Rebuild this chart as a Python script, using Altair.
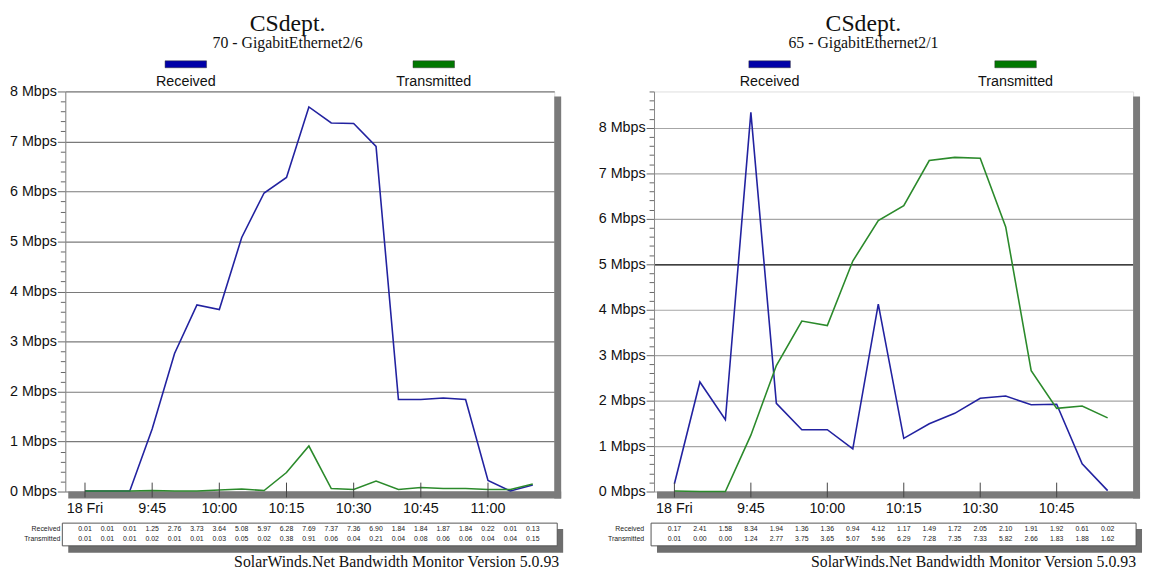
import altair as alt
import pandas as pd

SANS = "Liberation Sans"
SERIF = "Liberation Serif"
BLUE = "#2222a0"
GREEN = "#2b8a2b"
BLUE_KEY = "#0000a8"
GREEN_KEY = "#007800"

series_names = ["Received", "Transmitted"]
footer_text = "SolarWinds.Net Bandwidth Monitor Version 5.0.93"

# ---------- left panel ----------
left_title = "CSdept."
left_subtitle = "70 - GigabitEthernet2/6"
left_times = [
    "2008-01-18T09:30:00", "2008-01-18T09:35:00", "2008-01-18T09:40:00",
    "2008-01-18T09:45:00", "2008-01-18T09:50:00", "2008-01-18T09:55:00",
    "2008-01-18T10:00:00", "2008-01-18T10:05:00", "2008-01-18T10:10:00",
    "2008-01-18T10:15:00", "2008-01-18T10:20:00", "2008-01-18T10:25:00",
    "2008-01-18T10:30:00", "2008-01-18T10:35:00", "2008-01-18T10:40:00",
    "2008-01-18T10:45:00", "2008-01-18T10:50:00", "2008-01-18T10:55:00",
    "2008-01-18T11:00:00", "2008-01-18T11:05:00", "2008-01-18T11:10:00",
]
left_received = [0.01, 0.01, 0.01, 1.25, 2.76, 3.73, 3.64, 5.08, 5.97, 6.28, 7.69,
                 7.37, 7.36, 6.90, 1.84, 1.84, 1.87, 1.84, 0.22, 0.01, 0.13]
left_transmitted = [0.01, 0.01, 0.01, 0.02, 0.01, 0.01, 0.03, 0.05, 0.02, 0.38, 0.91,
                    0.06, 0.04, 0.21, 0.04, 0.08, 0.06, 0.06, 0.04, 0.04, 0.15]
left_tick_times = ["2008-01-18T09:30:00", "2008-01-18T09:45:00", "2008-01-18T10:00:00",
                   "2008-01-18T10:15:00", "2008-01-18T10:30:00", "2008-01-18T10:45:00",
                   "2008-01-18T11:00:00"]
left_tick_labels = ["18 Fri", "9:45", "10:00", "10:15", "10:30", "10:45", "11:00"]

# ---------- right panel ----------
right_title = "CSdept."
right_subtitle = "65 - GigabitEthernet2/1"
right_times = [
    "2008-01-18T09:30:00", "2008-01-18T09:35:00", "2008-01-18T09:40:00",
    "2008-01-18T09:45:00", "2008-01-18T09:50:00", "2008-01-18T09:55:00",
    "2008-01-18T10:00:00", "2008-01-18T10:05:00", "2008-01-18T10:10:00",
    "2008-01-18T10:15:00", "2008-01-18T10:20:00", "2008-01-18T10:25:00",
    "2008-01-18T10:30:00", "2008-01-18T10:35:00", "2008-01-18T10:40:00",
    "2008-01-18T10:45:00", "2008-01-18T10:50:00", "2008-01-18T10:55:00",
]
right_received = [0.17, 2.41, 1.58, 8.34, 1.94, 1.36, 1.36, 0.94, 4.12, 1.17, 1.49,
                  1.72, 2.05, 2.10, 1.91, 1.92, 0.61, 0.02]
right_transmitted = [0.01, 0.00, 0.00, 1.24, 2.77, 3.75, 3.65, 5.07, 5.96, 6.29, 7.28,
                     7.35, 7.33, 5.82, 2.66, 1.83, 1.88, 1.62]
right_tick_times = ["2008-01-18T09:30:00", "2008-01-18T09:45:00", "2008-01-18T10:00:00",
                    "2008-01-18T10:15:00", "2008-01-18T10:30:00", "2008-01-18T10:45:00"]
right_tick_labels = ["18 Fri", "9:45", "10:00", "10:15", "10:30", "10:45"]


def dt(h, m, s=0):
    return alt.DateTime(year=2008, month=1, date=18, hours=h, minutes=m, seconds=s)


def one(**kw):
    return pd.DataFrame({k: [v] for k, v in kw.items()})


def panel(title, subtitle, times, rec, tra, tick_times, tick_labels,
          x0, x1, ymax, grid_color, W, H, title_x, key_x, footer_x, tab_label_x):
    xs = alt.Scale(domain=[x0, x1])
    ys = alt.Scale(domain=[0, ymax], nice=False, zero=True)
    n = len(times)
    df = pd.DataFrame({
        "t": times + times,
        "series": [series_names[0]] * n + [series_names[1]] * n,
        "value": rec + tra,
    })
    yticks = [i / 5 for i in range(int(round(ymax * 5)) + 1)]
    yaxis = alt.Axis(
        values=yticks, title=None,
        labelExpr="datum.value % 1 == 0 ? datum.value + ' Mbps' : ''",
        labelFont=SANS, labelFontSize=14.5, labelColor="#111", labelPadding=1,
        labelOverlap=False, labelFlush=False,
        tickSize={"condition": {"test": "datum.value % 1 == 0", "value": 8}, "value": 5},
        tickColor="#666", domainColor="#888",
        gridColor=grid_color,
        gridOpacity={"condition": {"test": "datum.value % 1 != 0", "value": 0}, "value": 1},
        gridWidth=1.2,
    )
    X = alt.X("t:T", scale=xs, axis=None)

    shadow_b = alt.Chart(one(k=0)).mark_rect(color="#7a7a7a").encode(
        x=alt.value(3), x2=alt.value(W + 7), y=alt.value(H), y2=alt.value(H + 7))
    shadow_r = alt.Chart(one(k=0)).mark_rect(color="#7a7a7a").encode(
        x=alt.value(W), x2=alt.value(W + 7), y=alt.value(5), y2=alt.value(H + 7))

    lines = alt.Chart(df).mark_line(strokeWidth=1.6).encode(
        x=X,
        y=alt.Y("value:Q", scale=ys, axis=yaxis),
        color=alt.Color("series:N", scale=alt.Scale(domain=series_names, range=[BLUE, GREEN]),
                        legend=None),
    )

    tdf = pd.DataFrame({"t": tick_times, "label": tick_labels})
    ticks = alt.Chart(tdf).mark_rule(color="#444", strokeWidth=1).encode(
        x=X, y=alt.value(H - 9), y2=alt.value(H + 6))
    tick_text = alt.Chart(tdf).mark_text(font=SANS, fontSize=14.5, color="#111",
                                         baseline="alphabetic").encode(
        x=X, y=alt.value(H + 22), text="label:N")

    # title, subtitle
    t1 = alt.Chart(one(s=title)).mark_text(font=SERIF, fontSize=24, color="#111",
                                           baseline="top").encode(
        x=alt.value(title_x), y=alt.value(-80), text="s:N")
    t2 = alt.Chart(one(s=subtitle)).mark_text(font=SERIF, fontSize=16, color="#111",
                                              baseline="alphabetic").encode(
        x=alt.value(title_x), y=alt.value(-44), text="s:N")

    # legend keys
    keys = []
    for name, cx, col in zip(series_names, key_x, [BLUE_KEY, GREEN_KEY]):
        keys.append(alt.Chart(one(s=name)).mark_rect(color=col, stroke="#333",
                                                     strokeWidth=0.5).encode(
            x=alt.value(cx - 21), x2=alt.value(cx + 21), y=alt.value(-31), y2=alt.value(-24)))
        keys.append(alt.Chart(one(s=name)).mark_text(font=SANS, fontSize=14.5, color="#111",
                                                     baseline="alphabetic").encode(
            x=alt.value(cx), y=alt.value(-6), text="s:N"))

    # table under the chart
    tab_shadow = alt.Chart(one(k=0)).mark_rect(color="#6e6e6e").encode(
        x=alt.value(3), x2=alt.value(W + 9), y=alt.value(H + 38), y2=alt.value(H + 62))
    tab_box = alt.Chart(one(k=0)).mark_rect(fill="white", stroke="#555",
                                            strokeWidth=1).encode(
        x=alt.value(-3), x2=alt.value(W + 3), y=alt.value(H + 32), y2=alt.value(H + 55))
    rows = []
    for name, vals, yy in zip(series_names, [rec, tra], [H + 38, H + 48]):
        rdf = pd.DataFrame({"t": times, "txt": [f"{v:.2f}" for v in vals]})
        rows.append(alt.Chart(rdf).mark_text(font=SANS, fontSize=7, color="#222",
                                             baseline="middle").encode(
            x=X, y=alt.value(yy), text="txt:N"))
        rows.append(alt.Chart(one(s=name)).mark_text(font=SANS, fontSize=7, color="#222",
                                                     align="right",
                                                     baseline="middle").encode(
            x=alt.value(tab_label_x), y=alt.value(yy), text="s:N"))

    footer = alt.Chart(one(s=footer_text)).mark_text(font=SERIF, fontSize=16, color="#111",
                                                     align="right",
                                                     baseline="alphabetic").encode(
        x=alt.value(footer_x), y=alt.value(H + 76), text="s:N")

    return alt.layer(shadow_b, shadow_r, lines, ticks, tick_text, t1, t2, *keys,
                     tab_shadow, tab_box, *rows, footer).properties(width=W, height=H)


left = panel(left_title, left_subtitle, left_times, left_received, left_transmitted,
             left_tick_times, left_tick_labels, dt(9, 25, 36), dt(11, 14, 48), 8.0,
             "#7a7a7a", 495, 405, 225, [122, 373], 500, -5)

right = panel(right_title, right_subtitle, right_times, right_received, right_transmitted,
              right_tick_times, right_tick_labels, dt(9, 26), dt(11, 0), 8.8,
              {"condition": {"test": "datum.value == 5", "value": "#000000"}, "value": "#a6a6a6"},
              485, 405, 212, [117, 366], 488, -10)

chart = alt.hconcat(left, right, spacing=33).properties(padding=0).configure_view(
    stroke="#8c8c8c", strokeWidth=1).configure(background="white")

chart.save("out.html", embed_options={"renderer": "svg", "actions": False})
